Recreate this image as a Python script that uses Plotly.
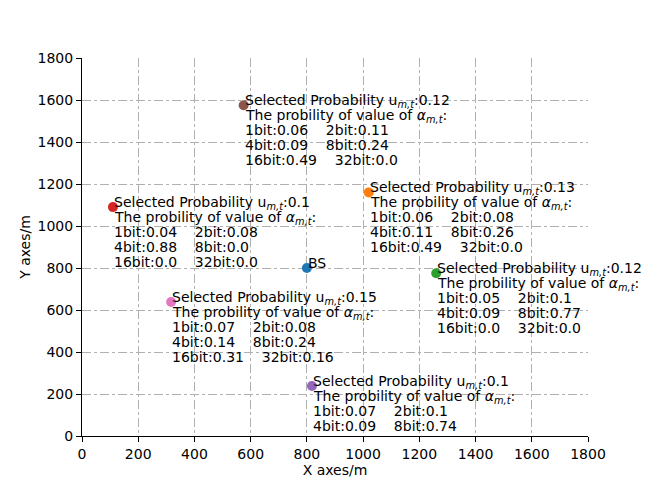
import plotly.graph_objects as go

# base station
bs_x = [800]
bs_y = [800]

# users (matplotlib tab10 colours C1..C6)
user_x = [1020, 1260, 110, 818, 575, 317]
user_y = [1160, 775, 1090, 238, 1575, 638]
user_colors = ['#ff7f0e', '#2ca02c', '#d62728', '#9467bd', '#8c564b', '#e377c2']
sel_prob = [0.13, 0.12, 0.1, 0.1, 0.12, 0.15]
bit_names = ['1bit', '2bit', '4bit', '8bit', '16bit', '32bit']
bit_prob = [
    [0.06, 0.08, 0.11, 0.26, 0.49, 0.0],
    [0.05, 0.1, 0.09, 0.77, 0.0, 0.0],
    [0.04, 0.08, 0.88, 0.0, 0.0, 0.0],
    [0.07, 0.1, 0.09, 0.74],
    [0.06, 0.11, 0.09, 0.24, 0.49, 0.0],
    [0.07, 0.08, 0.14, 0.24, 0.31, 0.16],
]

FONT = 'DejaVu Sans'
FS = 14
LINE = 15
sp = '\u00a0' * 4

fig = go.Figure()
fig.add_trace(go.Scatter(x=bs_x, y=bs_y, mode='markers',
                         marker=dict(color='#1f77b4', size=10), showlegend=False))
fig.add_trace(go.Scatter(x=user_x, y=user_y, mode='markers',
                         marker=dict(color=user_colors, size=10), showlegend=False))


def add_lines(x, y, lines):
    # one annotation per line so the spacing matches the reference
    for k, s in enumerate(lines):
        fig.add_annotation(x=x, y=y, text=s, showarrow=False,
                           xanchor='left', yanchor='top', align='left',
                           yshift=15 - k * LINE, xshift=-1,
                           font=dict(family=FONT, size=FS, color='black'))


add_lines(bs_x[0], bs_y[0], ['BS'])

for i in range(len(user_x)):
    lines = ['Selected Probability u<sub><i>m,t</i></sub>:' + str(sel_prob[i]),
             'The probility of value of <i>α</i><sub><i>m,t</i></sub>:']
    p = bit_prob[i]
    for k in range(0, len(p), 2):
        lines.append(bit_names[k] + ':' + str(p[k]) + sp + bit_names[k + 1] + ':' + str(p[k + 1]))
    add_lines(user_x[i], user_y[i], lines)

axis_common = dict(range=[0, 1800], dtick=200, showgrid=True, gridcolor='#b0b0b0',
                   griddash='dashdot', gridwidth=0.8, showline=True, linecolor='black',
                   linewidth=1, ticks='outside', ticklen=5, tickcolor='black',
                   zeroline=False, tickfont=dict(family=FONT, size=FS, color='black'))

fig.update_xaxes(title=dict(text='X axes/m', font=dict(family=FONT, size=FS, color='black'), standoff=4),
                 **axis_common)
fig.update_yaxes(title=dict(text='Y axes/m', font=dict(family=FONT, size=FS, color='black'), standoff=3),
                 **axis_common)

fig.update_layout(width=654, height=490, plot_bgcolor='white', paper_bgcolor='white',
                  margin=dict(l=74, r=74, t=50, b=62), showlegend=False)

fig.write_html("out.html")
